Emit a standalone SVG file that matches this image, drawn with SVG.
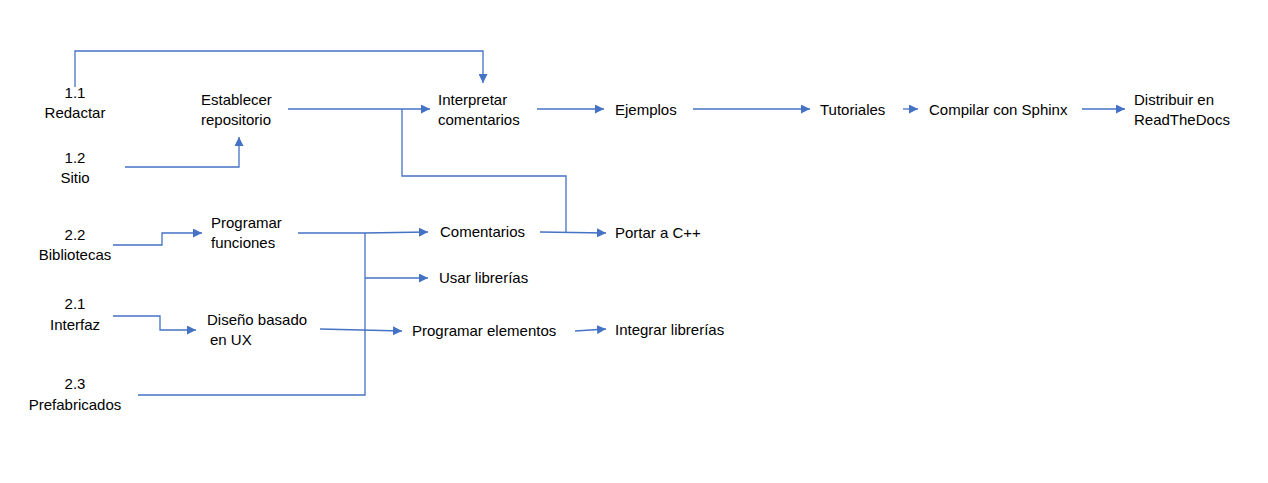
<svg xmlns="http://www.w3.org/2000/svg" width="1268" height="483" viewBox="0 0 1268 483">
<defs>
<marker id="ah" viewBox="0 0 10 10" refX="10" refY="5" markerWidth="9" markerHeight="9" markerUnits="userSpaceOnUse" orient="auto">
<path d="M0,0 L10,5 L0,10 Z" fill="#4472C4"/>
</marker>
<style>
text{font-family:"Liberation Sans",Arial,sans-serif;font-size:15px;fill:#000}
.c{text-anchor:middle}
.l{fill:none;stroke:#4472C4;stroke-width:1.3}
.a{marker-end:url(#ah)}
</style>
</defs>
<rect width="1268" height="483" fill="#fff"/>
<g id="connectors">
<path class="l a" d="M75,87 V51 H483 V83"/>
<path class="l a" d="M125,167 H239 V137"/>
<path class="l a" d="M288,109 H430"/>
<path class="l" d="M402,109 V176 H566 V233"/>
<path class="l a" d="M537,109 H604"/>
<path class="l a" d="M693,109 H810"/>
<path class="l a" d="M903,109 H918"/>
<path class="l a" d="M1082,109 H1125"/>
<path class="l a" d="M113,245 H162 V233 H202"/>
<path class="l a" d="M298,233 H365 L428,232"/>
<path class="l" d="M365,233 V395 H138"/>
<path class="l a" d="M365,278 H428"/>
<path class="l a" d="M540,232 L606,233"/>
<path class="l a" d="M113,316 H160 V330 H196"/>
<path class="l a" d="M320,329 L402,331"/>
<path class="l a" d="M575,331 L606,329"/>
</g>
<g id="n11"><text class="c" x="75" y="98">1.1</text><text class="c" x="75" y="118">Redactar</text></g>
<g id="n12"><text class="c" x="75" y="163">1.2</text><text class="c" x="75" y="183">Sitio</text></g>
<g id="n22"><text class="c" x="75" y="240">2.2</text><text class="c" x="75" y="260">Bibliotecas</text></g>
<g id="n21"><text class="c" x="75" y="309">2.1</text><text class="c" x="75" y="330">Interfaz</text></g>
<g id="n23"><text class="c" x="75" y="389">2.3</text><text class="c" x="75" y="410">Prefabricados</text></g>
<g id="repo"><text x="201" y="105">Establecer</text><text x="201" y="125">repositorio</text></g>
<g id="interp"><text x="438" y="105">Interpretar</text><text x="438" y="125">comentarios</text></g>
<g id="ejemplos"><text x="615" y="115">Ejemplos</text></g>
<g id="tutoriales"><text x="820" y="115">Tutoriales</text></g>
<g id="compilar"><text x="929" y="115">Compilar con Sphinx</text></g>
<g id="distribuir"><text x="1134" y="105">Distribuir en</text><text x="1134" y="125">ReadTheDocs</text></g>
<g id="progfun"><text x="211" y="228">Programar</text><text x="211" y="248">funciones</text></g>
<g id="comentarios"><text x="440" y="237">Comentarios</text></g>
<g id="portar"><text x="615" y="238">Portar a C++</text></g>
<g id="usar"><text x="439" y="283">Usar librerías</text></g>
<g id="diseno"><text x="207" y="325">Diseño basado</text><text x="210" y="345">en UX</text></g>
<g id="progel"><text x="412" y="336">Programar elementos</text></g>
<g id="integrar"><text x="615" y="335">Integrar librerías</text></g>
</svg>
